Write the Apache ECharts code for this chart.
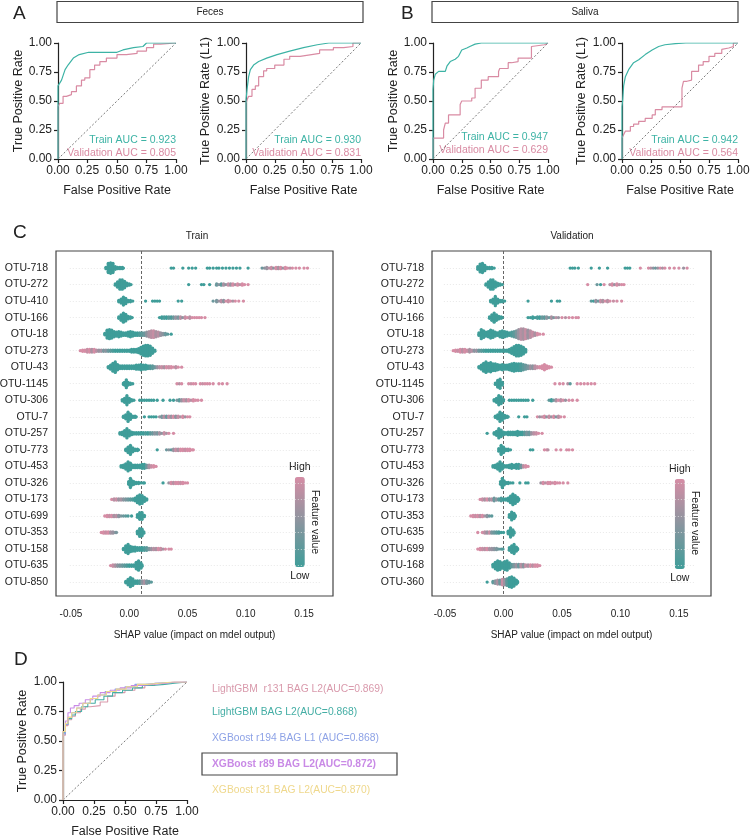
<!DOCTYPE html>
<html><head><meta charset="utf-8">
<script src="https://cdn.jsdelivr.net/npm/echarts@6/dist/echarts.min.js"></script>
<style>html,body{margin:0;padding:0;background:#fff}#c{width:750px;height:837px}</style>
</head><body><div id="c"></div>
<script>
// ---------------- DATA ----------------
// ROC curves [FPR, TPR]
const fecesTrain = [[0,0],[0,0.63],[0.03,0.68],[0.06,0.77],[0.085,0.81],[0.13,0.87],[0.18,0.90],[0.26,0.92],[0.50,0.92],[0.55,0.94],[0.64,0.96],[0.72,0.97],[0.75,1],[1,1]];
const fecesVal = [[0,0],[0,0.45],[0.014,0.454],[0.043,0.48],[0.071,0.54],[0.114,0.555],[0.156,0.58],[0.199,0.63],[0.227,0.68],[0.27,0.70],[0.31,0.77],[0.355,0.81],[0.41,0.84],[0.50,0.87],[0.58,0.90],[0.67,0.91],[0.75,0.93],[0.81,0.96],[0.87,0.99],[1,1]];
const fecesTrainL1 = [[0,0],[0,0.51],[0.009,0.60],[0.023,0.71],[0.038,0.77],[0.066,0.81],[0.11,0.84],[0.18,0.87],[0.27,0.90],[0.38,0.93],[0.50,0.96],[0.62,0.985],[0.72,1],[1,1]];
const fecesValL1 = [[0,0],[0,0.45],[0.009,0.48],[0.023,0.51],[0.052,0.54],[0.081,0.60],[0.11,0.63],[0.153,0.71],[0.18,0.76],[0.25,0.78],[0.33,0.81],[0.38,0.86],[0.47,0.885],[0.57,0.90],[0.64,0.91],[0.76,0.94],[0.85,0.96],[0.93,0.97],[1,1]];
const salivaTrain = [[0,0],[0,0.60],[0.006,0.68],[0.02,0.73],[0.049,0.755],[0.107,0.755],[0.121,0.80],[0.15,0.84],[0.193,0.86],[0.222,0.885],[0.25,0.94],[0.294,0.957],[0.32,0.97],[0.366,0.99],[0.42,1],[1,1]];
const salivaVal = [[0,0],[0.006,0.18],[0.092,0.18],[0.107,0.25],[0.135,0.31],[0.164,0.38],[0.236,0.38],[0.25,0.47],[0.337,0.50],[0.366,0.526],[0.395,0.61],[0.42,0.61],[0.48,0.68],[0.57,0.71],[0.58,0.755],[0.654,0.78],[0.683,0.83],[0.74,0.84],[0.77,0.87],[0.856,0.87],[0.87,0.97],[0.97,0.985],[1,1]];
const salivaTrainL1 = [[0,0],[0,0.45],[0.006,0.51],[0.014,0.63],[0.029,0.71],[0.057,0.77],[0.10,0.83],[0.144,0.856],[0.20,0.90],[0.26,0.94],[0.316,0.97],[0.37,0.985],[0.46,0.995],[0.55,1],[1,1]];
const salivaValL1 = [[0,0],[0,0.18],[0.014,0.18],[0.029,0.21],[0.072,0.24],[0.10,0.28],[0.144,0.30],[0.20,0.325],[0.26,0.35],[0.287,0.38],[0.345,0.425],[0.40,0.45],[0.517,0.45],[0.53,0.61],[0.56,0.67],[0.60,0.68],[0.632,0.755],[0.66,0.755],[0.70,0.81],[0.75,0.84],[0.80,0.885],[0.86,0.91],[0.876,0.945],[0.92,0.957],[0.96,0.97],[0.977,1],[1,1]];
const aucLabels = [
  ['Train AUC = 0.923','Validation AUC = 0.805'],
  ['Train AUC = 0.930','Validation AUC = 0.831'],
  ['Train AUC = 0.947','Validation AUC = 0.629'],
  ['Train AUC = 0.942','Validation AUC = 0.564']
];
// Panel D
const modelNames = ['LightGBM  r131 BAG L2(AUC=0.869)','LightGBM BAG L2(AUC=0.868)','XGBoost r194 BAG L1 (AUC=0.868)','XGBoost r89 BAG L2(AUC=0.872)','XGBoost r31 BAG L2(AUC=0.870)'];
const rocLgbR131 = [[0,0],[0,0.46],[0.02,0.55],[0.04,0.63],[0.07,0.68],[0.1,0.71],[0.14,0.74],[0.18,0.77],[0.22,0.79],[0.3,0.80],[0.36,0.83],[0.42,0.88],[0.5,0.91],[0.58,0.93],[0.66,0.95],[0.74,0.97],[0.82,0.99],[0.9,1],[1,1]];
const rocLgbBag = [[0,0],[0,0.5],[0.02,0.57],[0.04,0.64],[0.07,0.69],[0.1,0.72],[0.15,0.75],[0.2,0.79],[0.26,0.82],[0.33,0.85],[0.4,0.88],[0.48,0.91],[0.56,0.93],[0.64,0.95],[0.72,0.97],[0.82,0.98],[0.9,0.99],[1,1]];
const rocXgbR194 = [[0,0],[0,0.47],[0.02,0.56],[0.04,0.64],[0.07,0.70],[0.11,0.74],[0.16,0.78],[0.22,0.82],[0.28,0.86],[0.34,0.89],[0.42,0.92],[0.5,0.94],[0.58,0.96],[0.66,0.98],[0.75,0.99],[0.85,0.995],[1,1]];
const rocXgbR89 = [[0,0],[0,0.48],[0.02,0.58],[0.04,0.67],[0.06,0.74],[0.09,0.78],[0.13,0.80],[0.18,0.82],[0.24,0.85],[0.3,0.88],[0.38,0.91],[0.46,0.93],[0.55,0.95],[0.63,0.97],[0.72,0.98],[0.82,0.99],[0.9,1],[1,1]];
const rocXgbR31 = [[0,0],[0,0.5],[0.02,0.58],[0.04,0.65],[0.07,0.70],[0.11,0.74],[0.16,0.78],[0.22,0.82],[0.28,0.86],[0.35,0.89],[0.43,0.92],[0.51,0.94],[0.6,0.96],[0.68,0.98],[0.78,0.99],[0.88,1],[1,1]];

// Panel C : SHAP beeswarm, per feature: [SHAP x1000, number of stacked points, feature value 0(low)..1(high)]
const shapTicks = [-0.05,0,0.05,0.10,0.15];
const trainLabels = ['OTU-718','OTU-272','OTU-410','OTU-166','OTU-18','OTU-273','OTU-43','OTU-1145','OTU-306','OTU-7','OTU-257','OTU-773','OTU-453','OTU-326','OTU-173','OTU-699','OTU-353','OTU-158','OTU-635','OTU-850'];
const valLabels = ['OTU-718','OTU-272','OTU-410','OTU-166','OTU-18','OTU-273','OTU-43','OTU-1145','OTU-306','OTU-7','OTU-257','OTU-773','OTU-453','OTU-326','OTU-173','OTU-353','OTU-635','OTU-699','OTU-168','OTU-360'];
const trainShap = [
 [[-20,2,0],[-18,8,0],[-16,9,0],[-14,8,0],[-12,3,0],[-10,2,0],[-8,2,0],[-6,2,0],[-5,1,0],[36,1,0],[38,1,0],[46,1,0],[51,1,0],[54,1,0],[57,1,0],[67,1,0],[69,1,0],[72,1,0],[75,1,0],[77,1,0],[80,1,0],[83,1,0],[86,1,0],[89,1,0],[92,1,0],[95,1,0],[102,1,0],[114,1,0.3],[116,1,0.5],[118,2,0.6],[120,1,0.8],[122,2,0.9],[124,1,0.5],[126,2,1],[128,2,0.7],[130,2,1],[132,1,0.6],[134,2,1],[136,1,1],[138,1,0.8],[140,1,1],[143,1,1],[146,1,1],[150,1,1],[153,1,1]],
 [[-12,2,0],[-10,5,0],[-8,8,0],[-6,8,0],[-4,6,0],[-2,3,0],[0,2,0],[1.5,1,0],[51,1,0],[62,1,0],[64,1,0],[69,1,0],[75,2,0.3],[77,1,0.5],[79,2,0.2],[81,2,0.7],[83,1,0.5],[85,2,0.9],[87,2,0.6],[89,2,1],[91,1,0.7],[93,2,1],[95,1,0.8],[97,2,1],[99,1,1],[102,1,1]],
 [[-9,2,0],[-7,4,0],[-5,7,0],[-3,5,0],[-1,2,0],[1,2,0],[3,1,0],[14,1,0],[20,1,0],[22,1,0],[24,1,0],[26,1,0],[42,1,0],[45,1,0],[72,1,0.3],[75,2,0.4],[77,1,0.6],[79,2,0.8],[81,2,0.5],[83,1,1],[85,2,0.9],[87,1,1],[89,1,0.7],[91,1,1],[94,1,1],[98,1,1]],
 [[-9,2,0],[-7,5,0],[-5,8,0],[-3,6,0],[-1,3,0],[1,2,0],[2.5,1,0],[26,1,0],[28,2,0],[30,2,0.1],[32,2,0],[34,2,0.2],[36,2,0.1],[38,2,0.3],[40,2,0.6],[42,2,0.4],[44,2,0.8],[46,1,0.5],[48,2,0.9],[50,1,1],[52,2,0.8],[54,1,1],[56,1,1],[58,1,1],[60,1,1],[62,1,1],[65,1,1]],
 [[-21,2,0],[-19,7,0],[-17,8,0],[-15,7,0],[-13,5,0],[-11,4,0],[-9,5,0],[-7,4,0],[-5,3,0],[-3,3,0],[-1,4,0],[1,5,0],[3,4,0],[5,3,0],[7,3,0],[9,3,0.1],[11,3,0.2],[13,3,0.3],[15,4,0.5],[17,5,0.7],[19,6,0.8],[21,6,0.9],[23,5,0.7],[25,4,0.8],[27,3,0.6],[29,2,0.5],[31,2,0.3],[33,1,0.2],[36,1,0]],
 [[-42,1,1],[-40,2,1],[-38,2,1],[-36,3,0.9],[-34,3,1],[-32,3,0.7],[-30,3,1],[-28,2,0.8],[-26,2,0.6],[-24,2,0.7],[-22,2,0.4],[-20,2,0.5],[-18,2,0.3],[-16,2,0.2],[-14,2,0.1],[-12,2,0],[-10,2,0],[-8,2,0],[-6,2,0],[-4,2,0],[-2,2,0],[0,2,0],[2,3,0],[4,3,0],[6,3,0],[8,4,0],[10,6,0],[12,8,0],[14,9,0],[16,9,0],[18,8,0],[20,5,0],[22,2,0]],
 [[-18,2,0],[-16,4,0],[-14,7,0],[-12,9,0],[-10,5,0],[-8,3,0],[-6,3,0],[-4,3,0],[-2,3,0],[0,3,0],[2,3,0],[4,3,0],[6,4,0],[8,4,0],[10,5,0],[12,4,0],[14,4,0],[16,3,0],[18,3,0.1],[20,3,0.2],[22,2,0.3],[24,2,0.6],[26,2,0.8],[28,2,0.9],[30,2,0.7],[32,2,1],[34,2,0.9],[36,2,1],[38,1,1],[40,2,0.8],[42,1,1],[45,1,1]],
 [[-5,2,0],[-4,3,0],[-2.5,7,0],[-1,3,0],[1,2,0],[3,1,0],[41,1,1],[43,1,0.8],[45,1,1],[51,1,1],[53,1,0.9],[55,1,1],[57,1,1],[61,1,1],[63,1,0.9],[65,1,1],[67,1,1],[69,1,1],[72,1,1],[77,1,1],[80,1,1],[84,1,1]],
 [[-6,2,0],[-4,4,0],[-2,8,0],[0,4,0],[2,2,0],[4,1,0],[9,1,0],[11,1,0],[13,1,0],[15,1,0],[17,1,0],[19,1,0],[21,1,0],[24,1,0],[29,1,0],[35,1,0],[38,1,0],[41,1,0.4],[43,2,0.2],[45,2,0.6],[47,2,0.9],[49,2,0.7],[51,2,1],[53,1,0.8],[55,2,1],[57,1,1],[59,1,1],[62,1,1]],
 [[-5,2,0],[-3,4,0],[-1,8,0],[1,5,0],[3,2,0],[5,2,0],[6,1,0],[13,1,0],[17,1,0],[19,1,0],[21,1,0],[23,1,0],[26,1,0.6],[28,2,0.4],[30,2,0.8],[32,2,0.3],[34,2,0.9],[36,2,0.6],[38,2,1],[40,2,0.5],[42,2,0.9],[44,1,0.7],[46,2,1],[48,1,0.6],[50,1,1],[52,1,1]],
 [[-8,2,0],[-6,3,0],[-4,5,0],[-2,8,0],[0,5,0],[2,3,0],[4,2,0],[6,2,0],[8,2,0],[10,2,0],[12,2,0],[14,2,0.1],[16,2,0],[18,2,0.2],[20,2,0.3],[22,2,0.5],[24,2,0.4],[26,2,0.7],[28,1,0.5],[30,2,0.9],[32,1,0.7],[34,1,1],[38,1,1]],
 [[-3,2,0],[-1,5,0],[1,8,0],[3,4,0],[5,2,0],[7,2,0],[8,1,0],[24,1,0],[32,1,0.3],[34,1,0.5],[36,1,0.2],[38,2,0.6],[40,2,0.9],[42,2,0.7],[44,2,1],[46,2,1],[48,2,0.9],[50,2,1],[52,2,1],[54,1,1],[55,1,1]],
 [[-7,2,0],[-5,3,0],[-3,5,0],[-1,8,0],[1,6,0],[3,3,0],[5,3,0],[7,3,0],[9,3,0],[11,4,0],[13,4,0],[15,3,0.3],[17,3,0.7],[19,2,0.9],[21,2,1],[23,1,1]],
 [[-0.5,3,0],[1,8,0],[2.5,4,0],[4,3,0],[6,2,0],[8,2,0],[10,1,0],[12,1,0],[13,1,0],[29,1,0],[34,1,0.6],[36,2,1],[38,2,0.8],[40,2,1],[42,2,1],[44,2,0.9],[46,2,1],[48,1,1],[50,1,1]],
 [[-15,1,1],[-13,2,0.8],[-11,2,0.9],[-9,2,0.6],[-7,2,0.7],[-5,2,0.5],[-3,2,0.4],[-1,2,0.3],[1,2,0.2],[3,2,0.1],[5,3,0],[7,6,0],[9,8,0],[11,7,0],[13,4,0],[15,2,0]],
 [[-21,1,1],[-19,2,1],[-17,2,0.9],[-15,2,1],[-13,2,0.7],[-11,2,0.8],[-9,2,0.5],[-7,1,0.4],[-5,1,0.3],[-3,1,0.2],[-1,1,0.1],[2,1,0],[7,3,0],[9,6,0],[11,6,0],[13,2,0]],
 [[-24,1,1],[-22,2,1],[-20,2,0.9],[-18,2,1],[-16,2,0.7],[-14,2,0.6],[-12,1,0.5],[-11,1,0.4],[7,3,0],[9,7,0],[11,6,0],[12.5,2,0]],
 [[-5,2,0],[-3,6,0],[-1,8,0],[1,5,0],[3,4,0],[5,4,0],[7,3,0],[9,3,0],[11,3,0],[13,3,0.1],[15,3,0.2],[17,2,0.4],[19,2,0.6],[21,2,0.8],[23,2,0.7],[25,2,1],[27,2,0.9],[29,1,0.7],[31,1,1],[34,1,1],[36,1,1]],
 [[-16,1,1],[-14,2,0.9],[-12,2,0.7],[-10,2,0.5],[-8,2,0.4],[-6,2,0.3],[-4,2,0.2],[-2,2,0.1],[0,2,0],[2,2,0],[4,2,0],[6,6,0],[8,8,0],[10,5,0],[11,2,0]],
 [[-3,2,0],[-1,5,0],[1,8,0],[3,6,0],[5,3,0],[7,3,0],[9,3,0.1],[11,3,0.5],[13,3,0.7],[15,3,0.4],[17,2,0.3],[19,1,0.2]]
];
const valShap = [
 [[-22,3,0],[-20,7,0],[-18,8,0],[-16,5,0],[-14,2,0],[-12,2,0],[-10,2,0],[-8,1,0],[57,1,0],[59,1,0],[61,1,0],[64,1,0],[75,1,0],[82,1,0],[89,1,0],[104,1,0],[106,1,0],[108,1,0],[117,1,1],[124,1,1],[126,1,0.8],[128,1,0.5],[130,1,0.3],[132,1,0.6],[134,1,1],[136,1,0.7],[138,1,1],[142,1,1],[146,1,1],[150,1,1],[154,1,0.6],[157,1,1]],
 [[-15,2,0],[-13,5,0],[-11,8,0],[-9,8,0],[-7,5,0],[-5,3,0],[-3,2,0],[-1,1,0],[72,1,1],[80,1,0.3],[83,1,0],[86,1,1],[91,1,0.8],[93,2,1],[95,1,0.6],[97,2,1],[99,1,0.8],[101,1,1],[103,1,1]],
 [[-11,2,0],[-9,4,0],[-7,8,0],[-5,4,0],[-3,2,0],[-1,2,0],[1,1,0],[21,1,0],[41,1,0],[46,1,0],[48,1,0],[75,1,0.2],[77,1,0],[79,2,0.6],[81,1,0.3],[83,2,0.9],[85,2,0.7],[87,1,1],[89,2,0.8],[91,1,1],[94,1,0.9],[97,1,1],[101,1,1]],
 [[-12,2,0],[-10,5,0],[-8,8,0],[-6,5,0],[-4,3,0],[-2,2,0],[-1,1,0],[21,1,0],[23,1,0],[25,2,0],[27,1,0],[29,2,0.1],[31,2,0],[33,2,0.3],[35,2,0.2],[37,2,0.5],[39,1,0.3],[41,2,0.7],[43,1,0.4],[45,1,0.8],[47,1,0.6],[50,1,1],[53,1,0.8],[56,1,1],[59,1,1],[62,1,1],[64,1,1]],
 [[-21,3,0],[-19,8,0],[-17,6,0],[-15,4,0],[-13,5,0],[-11,7,0],[-9,6,0],[-7,4,0],[-5,3,0],[-3,5,0],[-1,6,0],[1,5,0],[3,4,0],[5,3,0],[7,4,0.1],[9,5,0.2],[11,6,0.4],[13,8,0.6],[15,9,0.8],[17,9,0.7],[19,8,0.9],[21,7,0.6],[23,6,0.8],[25,4,0.9],[27,3,0.7],[29,2,1],[31,1,1],[34,1,1]],
 [[-43,1,1],[-41,2,1],[-39,2,0.9],[-37,3,1],[-35,3,0.8],[-33,3,1],[-31,2,0.9],[-29,3,0.7],[-27,2,0.8],[-25,2,0.5],[-23,2,0.6],[-21,2,0.3],[-19,2,0.2],[-17,2,0.1],[-15,2,0],[-13,2,0],[-11,2,0],[-9,2,0],[-7,2,0],[-5,2,0],[-3,2,0],[-1,2,0],[1,2,0],[3,2,0],[5,3,0],[7,5,0],[9,7,0],[11,9,0],[13,9,0],[15,8,0],[17,6,0],[19,3,0]],
 [[-21,2,0],[-19,4,0],[-17,7,0],[-15,9,0],[-13,7,0],[-11,8,0],[-9,6,0],[-7,6,0],[-5,5,0],[-3,4,0],[-1,5,0],[1,4,0],[3,4,0],[5,5,0],[7,6,0],[9,7,0],[11,6,0],[13,6,0],[15,6,0.1],[17,5,0.2],[19,4,0.3],[21,3,0.4],[23,3,0.6],[25,3,0.5],[27,3,0.8],[29,2,0.9],[31,2,1],[33,3,1],[35,5,1],[37,3,1],[39,2,1],[41,1,1]],
 [[-7,2,0],[-5,6,0],[-3,8,0],[-1,3,0],[44,1,1],[48,1,1],[51,1,1],[55,1,0.8],[57,1,0.2],[63,1,1],[66,1,1],[69,1,1],[72,1,1],[75,1,1],[78,1,1]],
 [[-8,2,0],[-6,4,0],[-4,8,0],[-2,6,0],[0,2,0],[5,1,0],[7,1,0],[9,1,0],[11,1,0],[13,1,0],[15,1,0],[17,1,0],[19,1,0],[21,1,0],[25,1,0],[39,1,0.2],[41,2,0],[43,1,0.3],[45,2,0.7],[47,1,1],[49,2,0.8],[51,1,1],[53,1,0.6],[56,1,1],[59,1,1],[63,1,1]],
 [[-7,2,0],[-5,4,0],[-3,8,0],[-1,6,0],[1,3,0],[3,2,0],[4,1,0],[13,1,0],[18,1,0],[20,1,0],[29,1,1],[31,1,0.6],[33,1,0.8],[35,2,1],[37,1,0.5],[39,2,0.9],[41,1,0.6],[43,2,1],[45,1,0.4],[47,2,0.8],[49,1,1],[52,1,1]],
 [[-14,1,0],[-8,2,0],[-6,4,0],[-4,8,0],[-2,6,0],[0,3,0],[2,2,0],[4,3,0],[6,3,0],[8,3,0],[10,3,0],[12,4,0],[14,3,0],[16,3,0],[18,3,0.2],[20,3,0.4],[22,3,0.3],[24,2,0.6],[26,2,0.8],[28,2,0.9],[30,1,1],[33,1,1]],
 [[-4,3,0],[-2,8,0],[0,5,0],[2,2,0],[4,2,0],[6,1,0],[23,1,0],[25,1,0],[35,1,1],[37,1,1],[38,1,0.8],[45,1,1],[49,1,1],[54,1,1],[56,1,1],[59,1,1]],
 [[-9,2,0],[-7,3,0],[-5,5,0],[-3,8,0],[-1,5,0],[1,2,0],[3,2,0],[5,3,0],[7,4,0],[9,3,0],[11,4,0],[13,4,0],[15,3,0.3],[17,2,0.8],[19,2,1],[21,1,1]],
 [[-2.5,3,0],[-1,8,0],[0.5,4,0],[2,2,0],[4,2,0],[6,1,0],[8,1,0],[14,1,0],[19,1,0],[21,1,0],[32,1,0.6],[34,2,1],[36,1,0.8],[38,2,1],[40,2,1],[42,1,0.9],[44,2,1],[46,1,1],[48,1,1],[51,1,1],[55,1,1]],
 [[-20,1,1],[-18,2,0.9],[-16,2,0.7],[-14,2,1],[-12,2,0.6],[-10,2,0.8],[-8,3,0.3],[-6,2,0.5],[-4,2,0.2],[-2,3,0.1],[0,2,0],[2,2,0],[4,3,0],[6,6,0],[8,9,0],[10,7,0],[12,4,0],[13,2,0]],
 [[-28,1,1],[-26,2,1],[-24,2,0.9],[-22,2,1],[-20,2,0.8],[-18,2,1],[-16,1,0.7],[-14,2,0.5],[-12,1,0.3],[-10,1,0.2],[5,3,0],[7,7,0],[9,5,0],[10,2,0]],
 [[-22,1,1],[-18,1,1],[-16,2,0.8],[-14,2,0.6],[-12,2,0.9],[-10,2,0.4],[-8,2,0.3],[-6,2,0.2],[-4,2,0.1],[-2,1,0],[0,1,0],[4,3,0],[6,8,0],[8,5,0],[9,2,0]],
 [[-22,1,1],[-20,2,1],[-18,2,0.9],[-16,2,0.8],[-14,2,1],[-12,2,0.7],[-10,2,0.6],[-8,2,0.5],[-6,2,0.4],[-4,1,0.3],[-2,1,0.2],[-0.5,1,0.1],[5,3,0],[7,6,0],[9,8,0],[11,4,0],[12,2,0]],
 [[-9,3,0],[-7,6,0],[-5,8,0],[-3,7,0],[-1,5,0],[1,7,0],[3,8,0],[5,5,0],[7,3,0.2],[9,3,0.4],[11,3,0.6],[13,3,0.3],[15,3,0.8],[17,3,0.5],[19,2,0.9],[21,2,0.7],[23,2,1],[25,2,0.8],[27,2,1],[29,2,1],[31,1,1]],
 [[-14,1,0],[-9,2,0.2],[-7,3,0.5],[-5,4,0.7],[-3,4,0.3],[-1,5,0.9],[1,5,0.6],[3,6,0.2],[5,8,0],[7,9,0],[9,7,0],[11,4,0],[12,2,0]]
];
const trainBaseline = 0.006;
const valBaseline = 0.0034;

// ---------------- STYLE ----------------
const FONT = "'Liberation Sans', Arial, sans-serif";
const TEAL = '#3DB3A5', PINK = '#D98BA3';
const SW_LOW = '#3F9D99', SW_HIGH = '#D68DA5';
const D_COLORS = ['#D99AAC','#45AEA5','#8DA2E6','#C98AE6','#EFD88C'];
const INK = '#222';

const chart = echarts.init(document.getElementById('c'), null, {renderer:'canvas'});

const OB = {outerBoundsMode:'none', containLabel:false};
const grids = [
  Object.assign({left:58, top:43, width:118, height:116}, OB),
  Object.assign({left:246, top:43, width:115, height:116}, OB),
  Object.assign({left:433, top:43, width:115, height:116}, OB),
  Object.assign({left:622, top:43, width:116, height:116}, OB),
  Object.assign({left:56, top:251, width:277, height:345, show:true, borderColor:'#444', borderWidth:1.2}, OB),
  Object.assign({left:432, top:251, width:279, height:345, show:true, borderColor:'#444', borderWidth:1.2}, OB),
  Object.assign({left:63, top:682, width:124, height:118}, OB)
];

function rocX(gi) {
  return {gridIndex:gi, type:'value', min:0, max:1, interval:0.25,
    name:'False Positive Rate', nameLocation:'middle', nameGap:25,
    nameTextStyle:{fontSize:12.5, color:INK, fontFamily:FONT},
    axisLine:{show:true, onZero:false, lineStyle:{color:INK, width:1.2}},
    axisTick:{show:true, length:4, lineStyle:{color:INK, width:1.2}},
    axisLabel:{fontSize:12, color:INK, margin:6, fontFamily:FONT, formatter:v=>v.toFixed(2)},
    splitLine:{show:false}};
}
function rocY(gi, name, gap) {
  return {gridIndex:gi, type:'value', min:0, max:1, interval:0.25,
    name:name, nameLocation:'middle', nameGap:gap,
    nameTextStyle:{fontSize:12.5, color:INK, fontFamily:FONT},
    axisLine:{show:true, onZero:false, lineStyle:{color:INK, width:1.2}},
    axisTick:{show:true, length:4, lineStyle:{color:INK, width:1.2}},
    axisLabel:{fontSize:12, color:INK, margin:6, fontFamily:FONT, formatter:v=>v.toFixed(2)},
    splitLine:{show:false}};
}
function shapX(gi, min, max) {
  return {gridIndex:gi, type:'value', min:min, max:max,
    name:'SHAP value (impact on mdel output)', nameLocation:'middle', nameGap:34,
    nameTextStyle:{fontSize:10, color:INK, fontFamily:FONT},
    axisLine:{show:false}, axisTick:{show:false}, splitLine:{show:false},
    axisLabel:{fontSize:10, color:INK, margin:13, fontFamily:FONT, customValues:shapTicks, formatter:v=>v.toFixed(2)}};
}
function shapY(gi, labels) {
  return {gridIndex:gi, type:'value', min:-1.03, max:19.84, inverse:true,
    axisLine:{show:false}, axisTick:{show:false}, splitLine:{show:false},
    axisLabel:{fontSize:10.5, color:INK, margin:8, fontFamily:FONT,
      customValues:labels.map((_, i)=>i), formatter:v=>labels[Math.round(v)] || ''}};
}

const xAxes = [rocX(0), rocX(1), rocX(2), rocX(3), shapX(4, -0.06286, 0.17487), shapX(5, -0.06115, 0.17744), rocX(6)];
const yAxes = [rocY(0,'True Positive Rate',33), rocY(1,'True Positive Rate (L1)',34), rocY(2,'True Positive Rate',33), rocY(3,'True Positive Rate (L1)',34), shapY(4, trainLabels), shapY(5, valLabels), rocY(6,'True Positive Rate',34)];

const series = [];
function diag(i) {
  series.push({type:'line', xAxisIndex:i, yAxisIndex:i, data:[[0,0],[1,1]], showSymbol:false, silent:true,
    lineStyle:{color:'#555', width:0.8, type:[2,2]}, z:1});
}
function roc(i, data, color, step, w) {
  series.push({type:'line', xAxisIndex:i, yAxisIndex:i, data:data, showSymbol:false, silent:true,
    step: step ? 'start' : false, lineStyle:{color:color, width:w||1.2}, z:3});
}
[[fecesTrain, fecesVal],[fecesTrainL1, fecesValL1],[salivaTrain, salivaVal],[salivaTrainL1, salivaValL1]].forEach((p, i) => {
  diag(i);
  roc(i, p[1], PINK, true);
  roc(i, p[0], TEAL, false);
});
diag(6);
[rocLgbR131, rocLgbBag, rocXgbR194, rocXgbR89, rocXgbR31].forEach((d, k) => roc(6, d, D_COLORS[k], true, 1.1));

// beeswarm layout: stack points of a bin symmetrically around the row
const DY = 0.079;
function swarm(rows) {
  const pts = [];
  rows.forEach((bins, r) => {
    bins.forEach(([m, n, c]) => {
      for (let k = 0; k < n; k++) pts.push([m / 1000, r + (k - (n - 1) / 2) * DY, c]);
    });
  });
  return pts;
}
function guides(gi, labels, base, xmin, xmax) {
  series.push({type:'scatter', xAxisIndex:gi, yAxisIndex:gi, data:[], silent:true,
    markLine:{silent:true, symbol:'none', label:{show:false}, animation:false,
      data: labels.map((_, r) => [{coord:[xmin, r], lineStyle:{color:'#e2e2e2', width:0.8, type:[1,2]}}, {coord:[xmax, r]}])
        .concat([{xAxis: base, lineStyle:{color:'#666', width:1, type:[3,2]}}])}});
}
guides(4, trainLabels, trainBaseline, -0.051, 0.164);
guides(5, valLabels, valBaseline, -0.051, 0.164);
const trainIdx = series.length;
series.push({type:'scatter', xAxisIndex:4, yAxisIndex:4, data:swarm(trainShap), symbolSize:3.3, clip:false, silent:true, z:5, itemStyle:{opacity:1}});
const valIdx = series.length;
series.push({type:'scatter', xAxisIndex:5, yAxisIndex:5, data:swarm(valShap), symbolSize:3.3, clip:false, silent:true, z:5, itemStyle:{opacity:1}});

function vm(idx, left, top) {
  return {type:'continuous', seriesIndex:idx, dimension:2, min:0, max:1, calculable:false, hoverLink:false,
    orient:'vertical', left:left, top:top, itemWidth:10, itemHeight:90, text:['High','Low'], textGap:4,
    textStyle:{fontSize:10.5, color:INK, fontFamily:FONT}, inRange:{color:[SW_LOW, SW_HIGH]}};
}

function txt(x, y, s, opt) {
  return {type:'text', x:x, y:y, silent:true, style:Object.assign({text:s, fill:INK, font:'12px ' + FONT, align:'left', verticalAlign:'middle'}, opt || {})};
}
const graphics = [
  txt(13, 14, 'A', {font:'19px ' + FONT}),
  txt(401, 14, 'B', {font:'19px ' + FONT}),
  txt(13, 233, 'C', {font:'19px ' + FONT}),
  txt(14, 660, 'D', {font:'19px ' + FONT}),
  {type:'rect', shape:{x:57, y:1.5, width:306, height:21}, style:{fill:'#fff', stroke:'#444', lineWidth:1.2}, silent:true},
  {type:'rect', shape:{x:432, y:1.5, width:306, height:21}, style:{fill:'#fff', stroke:'#444', lineWidth:1.2}, silent:true},
  txt(210, 12, 'Feces', {font:'10px ' + FONT, align:'center'}),
  txt(585, 12, 'Saliva', {font:'10px ' + FONT, align:'center'}),
  txt(197, 236, 'Train', {font:'10px ' + FONT, align:'center'}),
  txt(572, 236, 'Validation', {font:'10px ' + FONT, align:'center'})
];
const fv1 = txt(315, 522, 'Feature value', {font:'10.5px ' + FONT, align:'center'}); fv1.rotation = -Math.PI / 2;
const fv2 = txt(695, 523, 'Feature value', {font:'10.5px ' + FONT, align:'center'}); fv2.rotation = -Math.PI / 2;
graphics.push(fv1, fv2);
const aucPos = [[176, 140],[361, 140],[548, 137],[738, 140]];
aucLabels.forEach((p, i) => {
  graphics.push(txt(aucPos[i][0], aucPos[i][1], p[0], {fill:TEAL, align:'right', font:'10.5px ' + FONT}));
  graphics.push(txt(aucPos[i][0], aucPos[i][1] + 13, p[1], {fill:PINK, align:'right', font:'10.5px ' + FONT}));
});
const legY = [689, 712, 738, 764, 790];
modelNames.forEach((n, k) => {
  graphics.push(txt(212, legY[k], n, {fill:D_COLORS[k], font:(k === 3 ? 'bold ' : '') + '10.3px ' + FONT}));
});
graphics.push({type:'rect', shape:{x:202, y:753, width:195, height:22}, style:{fill:'none', stroke:'#444', lineWidth:1.2}, silent:true});

chart.setOption({
  animation:false,
  textStyle:{fontFamily:FONT},
  grid:grids, xAxis:xAxes, yAxis:yAxes, series:series,
  visualMap:[vm(trainIdx, 274, 447), vm(valIdx, 654, 449)],
  graphic:graphics
});
</script></body></html>
